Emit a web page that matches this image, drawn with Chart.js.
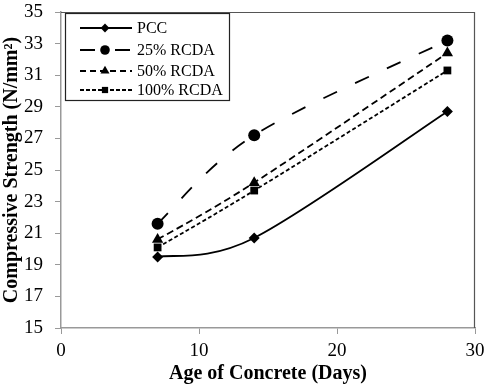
<!DOCTYPE html>
<html><head><meta charset="utf-8">
<script src="https://cdn.jsdelivr.net/npm/chart.js@4"></script>
<style>html,body{margin:0;padding:0;background:#fff}#wrap{width:485px;height:384px}</style>
</head><body><div id="wrap"><canvas id="c" width="485" height="384"></canvas></div>
<script>
const days = [7, 14, 28];
const seriesNames = ['PCC', '25% RCDA', '50% RCDA', '100% RCDA'];
const pcc = [19.5, 20.7, 28.7];
const rcda25 = [21.6, 27.2, 33.2];
const rcda50 = [20.6, 24.2, 32.4];
const rcda100 = [20.1, 23.7, 31.3];
const yTicks = [15, 17, 19, 21, 23, 25, 27, 29, 31, 33, 35];
const xTicks = [0, 10, 20, 30];

const styles = [
  {dash: [], ps: 'rectRot', r: 5.5},
  {dash: [15, 20], ps: 'circle', r: 6},
  {dash: [7, 4], ps: 'triangle', r: 6.5},
  {dash: [4, 2.5], ps: 'rect', r: 5.5}
];
const legendDash = [[], [15, 20], [6, 4], [4, 2]];
const allData = [pcc, rcda25, rcda50, rcda100];
const datasets = allData.map((vals, i) => ({
  label: seriesNames[i],
  data: vals.map((v, j) => ({x: days[j], y: v})),
  borderColor: '#000', backgroundColor: '#000', borderWidth: 1.8,
  borderDash: styles[i].dash, pointStyle: styles[i].ps, pointRadius: styles[i].r,
  pointBorderWidth: 0, tension: 0.4, fill: false
}));

const serif = "'Liberation Serif', 'Times New Roman', serif";

const excelSmooth = {
  id: 'excelSmooth',
  beforeDatasetsDraw(chart) {
    chart.data.datasets.forEach((ds, di) => {
      const meta = chart.getDatasetMeta(di);
      if (meta.dataset && meta.dataset.updateControlPoints) meta.dataset.updateControlPoints(chart.chartArea, 'x');
      const pts = meta.data;
      const n = pts.length;
      for (let i = 0; i < n; i++) {
        const p = pts[i];
        const prev = pts[Math.max(i - 1, 0)];
        const next = pts[Math.min(i + 1, n - 1)];
        const tx = (next.x - prev.x) / 6, ty = (next.y - prev.y) / 6;
        p.cp1x = p.x - tx; p.cp1y = p.y - ty;
        p.cp2x = p.x + tx; p.cp2y = p.y + ty;
      }
    });
  }
};

const frame = {
  id: 'frame',
  afterDraw(chart) {
    const {ctx, chartArea: a} = chart;
    ctx.save();
    ctx.strokeStyle = '#555'; ctx.lineWidth = 1.2;
    ctx.beginPath();
    ctx.moveTo(a.left, a.top + 0.5); ctx.lineTo(a.right - 0.5, a.top + 0.5); ctx.lineTo(a.right - 0.5, a.bottom);
    ctx.stroke();
    const bx = a.left + 4, by = a.top + 1, bw = 164, bh = 87;
    ctx.fillStyle = '#fff'; ctx.fillRect(bx, by, bw, bh);
    ctx.strokeStyle = '#222'; ctx.lineWidth = 1.2;
    ctx.strokeRect(bx + 0.5, by + 0.5, bw, bh);
    const rows = [15, 37, 58, 77];
    chart.data.datasets.forEach((ds, i) => {
      const y = by + rows[i];
      ctx.strokeStyle = '#000'; ctx.lineWidth = 1.8;
      ctx.setLineDash(legendDash[i]);
      ctx.beginPath(); ctx.moveTo(bx + 15, y); ctx.lineTo(bx + 67, y); ctx.stroke();
      ctx.setLineDash([]);
      ctx.fillStyle = '#000';
      Chart.helpers.drawPoint(ctx, {pointStyle: styles[i].ps, radius: styles[i].r * 0.8, borderWidth: 0}, bx + 40, y);
      ctx.font = '16px ' + serif; ctx.textBaseline = 'middle'; ctx.textAlign = 'left';
      ctx.fillText(ds.label, bx + 72, y + 1);
    });
    ctx.restore();
  }
};

new Chart(document.getElementById('c'), {
  type: 'line',
  data: {datasets},
  options: {
    responsive: false, animation: false, devicePixelRatio: 1,
    layout: {padding: 0},
    plugins: {legend: {display: false}, tooltip: {enabled: false}},
    scales: {
      x: {
        type: 'linear', min: 0, max: 30,
        afterBuildTicks: s => { s.ticks = xTicks.map(v => ({value: v})); },
        afterFit: s => { s.height = 56; s.paddingLeft = 0; s.paddingRight = 10; },
        grid: {drawOnChartArea: false, color: '#999', tickLength: 6},
        border: {color: '#999', width: 1.5},
        ticks: {color: '#000', font: {family: serif, size: 19}, padding: 6, maxRotation: 0},
        title: {display: true, text: 'Age of Concrete (Days)', color: '#000', font: {family: serif, size: 20, weight: 'bold'}, padding: {top: 0, bottom: -2}}
      },
      y: {
        min: 15, max: 35,
        afterBuildTicks: s => { s.ticks = yTicks.map(v => ({value: v})); },
        afterFit: s => { s.width = 61; s.paddingTop = 12; s.paddingBottom = 0; },
        grid: {drawOnChartArea: false, color: '#999', tickLength: 6},
        border: {color: '#999', width: 1.5},
        ticks: {color: '#000', font: {family: serif, size: 19}, padding: 12},
        title: {display: true, text: 'Compressive Strength (N/mm²)', color: '#000', font: {family: serif, size: 20, weight: 'bold'}, padding: {top: 0, bottom: 0}}
      }
    }
  },
  plugins: [excelSmooth, frame]
});
</script></body></html>
